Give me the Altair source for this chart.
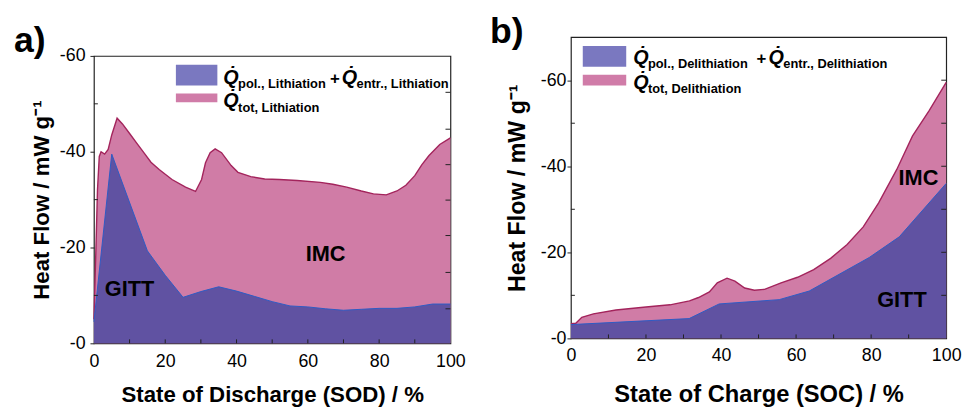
import altair as alt
import pandas as pd

# ---------------- data ----------------
# panel a: lithiation (state of discharge)
sod_imc = [0, 0.5, 1, 1.5, 2, 3, 4, 5, 6.5, 8, 10, 12, 14, 16, 18.3, 21.9, 25.7, 28.5,
           30.2, 31.3, 32.6, 34, 35.8, 38.5, 40.4, 44, 47.9, 52, 57, 63.5, 67, 70.9,
           75, 78.4, 82, 85, 87.5, 90, 92, 94, 97, 100]
imc_lith = [-5, -18, -32, -39, -40, -39.5, -40.5, -43.5, -47, -45.8, -43.8, -41.8, -39.8,
            -37.8, -36.3, -34.2, -32.6, -31.7, -34.2, -37.7, -39.8, -40.6, -39.8, -37.1,
            -35.7, -34.8, -34.3, -34.2, -34.0, -33.6, -33.2, -32.6, -31.8, -31.2, -31.0,
            -31.8, -33.0, -35.0, -37.3, -39.2, -41.5, -42.9]
sod_gitt = [0, 5, 15, 20, 25, 30, 35, 40, 45, 50, 55, 60, 65, 70, 75, 80, 85, 90, 95, 100]
gitt_lith = [-4.5, -39.5, -19.3, -14.2, -9.6, -10.8, -11.8, -10.9, -9.8, -8.7, -7.8, -7.6,
             -7.2, -6.9, -7.1, -7.3, -7.3, -7.6, -8.2, -8.2]

# panel b: delithiation (state of charge)
soc_imc = [0, 1.3, 2.9, 6, 12, 20, 26.4, 31.6, 34, 36.9, 39, 41.6, 43.7, 46.3, 48.9, 51.6,
           56, 60.4, 64.7, 69.2, 73.6, 77.9, 82, 86.8, 91, 95.5, 100]
imc_delith = [-3.4, -3.5, -4.9, -5.7, -6.6, -7.3, -7.8, -8.7, -9.5, -10.8, -12.9, -14.0,
              -13.3, -11.7, -11.2, -11.4, -12.9, -14.2, -16.0, -18.6, -21.8, -25.9, -31.5,
              -39.2, -47.0, -53.0, -59.5]
soc_gitt = [0, 31.5, 39.5, 55.5, 63.5, 79.5, 87.5, 100]
gitt_delith = [-3.2, -4.6, -8.0, -9.0, -11.0, -18.8, -23.6, -36.0]

x_labels = [0, 20, 40, 60, 80, 100]
x_minor = [10, 20, 30, 40, 50, 60, 70, 80, 90]
ya_labels = [0, -20, -40, -60]
ya_minor = [-10, -30, -50]
ya_right = [-7.2, -14.8, -22.5, -29.9, -37.3, -44.7, -52.4]
yb_labels = [0, -20, -40, -60]
yb_minor = [-10, -30, -50]
yb_right = [-10, -20, -30, -40, -50, -60]

# ---------------- style ----------------
FONT = "Liberation Sans"
PINK = "#D07CA6"
PINK_LINE = "#A3245C"
BLUE = "#6052A2"
BLUE_LINE = "#2E5BC4"
LEG_BLUE = "#7A78C0"
LEG_PINK = "#D07CA8"
FRAME = "#222222"
ONE = pd.DataFrame({"d": [0]})


def txt(text, x, y, size, italic=False, baseline="alphabetic", align="left"):
    return alt.Chart(ONE).mark_text(
        text=text, align=align, baseline=baseline, font=FONT, fontSize=size,
        fontWeight="bold", fontStyle="italic" if italic else "normal", color="black"
    ).encode(x=alt.value(x), y=alt.value(y))


def swatch(color, x, x2, y, y2):
    return alt.Chart(ONE).mark_rect(color=color).encode(
        x=alt.value(x), x2=alt.value(x2), y=alt.value(y), y2=alt.value(y2))


def panel(xi, yi, xg, yg, W, H, ymin, xtitle, xtsize, ylabels, yminor, yright,
          lab_pad_y, title_pad_y, lab_pad_x, title_pad_x, ytsize):
    xs = alt.Scale(domain=[0, 100], nice=False, zero=False)
    ys = alt.Scale(domain=[ymin, 0], reverse=True, nice=False)
    xaxis = alt.Axis(values=x_labels, ticks=False, labelPadding=lab_pad_x,
                     title=xtitle, titleFontSize=xtsize, titlePadding=title_pad_x,
                     labelFlush=False)
    yaxis = alt.Axis(values=ylabels, tickSize=4, labelPadding=lab_pad_y,
                     title="Heat Flow / mW g\u207b\u00b9", titleFontSize=ytsize,
                     titlePadding=title_pad_y, labelExpr="'-' + abs(datum.value)")
    imc = pd.DataFrame({"x": xi, "y": yi})
    gitt = pd.DataFrame({"x": xg, "y": yg})
    base_i = alt.Chart(imc)
    base_g = alt.Chart(gitt)
    area_i = base_i.mark_area(color=PINK, opacity=1).encode(
        x=alt.X("x:Q", scale=xs, axis=xaxis), y=alt.Y("y:Q", scale=ys, axis=yaxis))
    line_i = base_i.mark_line(color=PINK_LINE, strokeWidth=1.4).encode(
        x=alt.X("x:Q"), y=alt.Y("y:Q"))
    area_g = base_g.mark_area(color=BLUE, opacity=1).encode(
        x=alt.X("x:Q"), y=alt.Y("y:Q"))
    line_g = base_g.mark_line(color=BLUE_LINE, strokeWidth=1).encode(
        x=alt.X("x:Q"), y=alt.Y("y:Q"))
    bt = alt.Chart(pd.DataFrame({"x": x_minor})).mark_rule(color=FRAME, strokeWidth=1).encode(
        x=alt.X("x:Q"), y=alt.value(H), y2=alt.value(H - 4))
    lt = alt.Chart(pd.DataFrame({"y": yminor})).mark_rule(color=FRAME, strokeWidth=1).encode(
        y=alt.Y("y:Q"), x=alt.value(0), x2=alt.value(4))
    rt = alt.Chart(pd.DataFrame({"y": yright})).mark_rule(color=FRAME, strokeWidth=1).encode(
        y=alt.Y("y:Q"), x=alt.value(W - 5), x2=alt.value(W))
    return [area_i, line_i, area_g, line_g, bt, lt, rt]


def note(text, xv, yv):
    return alt.Chart(pd.DataFrame({"x": [xv], "y": [yv]})).mark_text(
        text=text, font=FONT, fontSize=22, fontWeight="bold",
        color="black", baseline="middle", align="center").encode(
        x=alt.X("x:Q"), y=alt.Y("y:Q"))


Q = "Q\u0307"

# ---------------- panel a ----------------
WA, HA = 361, 291
la = panel(sod_imc, imc_lith, sod_gitt, gitt_lith, WA, HA, -60,
           "State of Discharge (SOD) / %", 22.5, ya_labels, ya_minor, ya_right,
           5, 6, 9, 14, 22.5)
la += [
    note("GITT", 10, -11.3),
    note("IMC", 65, -18.6),
    swatch(LEG_BLUE, 83, 125, 9, 30),
    swatch(LEG_PINK, 83, 125, 38, 47),
    txt(Q, 131, 28, 20, italic=True),
    txt("pol., Lithiation", 146, 32, 13),
    txt("+", 239, 28, 17),
    txt(Q, 251, 28, 20, italic=True),
    txt("entr., Lithiation", 266, 32, 13),
    txt(Q, 131, 52, 20, italic=True),
    txt("tot, Lithiation", 146, 57, 13),
    txt("a)", -81, -32, 36, baseline="top"),
]
chart_a = alt.layer(*la).properties(width=WA, height=HA)

# small empty strip that lowers panel a relative to panel b
spacer = alt.Chart(ONE).mark_point(opacity=0).encode(
    x=alt.value(0), y=alt.value(0)
).properties(width=WA, height=1, view=alt.ViewBackground(stroke="transparent"))

col_a = alt.vconcat(spacer, chart_a, spacing=18, bounds="flush")

# ---------------- panel b ----------------
WB, HB = 380, 305
lb = panel(soc_imc, imc_delith, soc_gitt, gitt_delith, WB, HB, -70,
           "State of Charge (SOC) / %", 24, yb_labels, yb_minor, yb_right,
           1, 11, 8, 19, 23.5)
lb += [
    note("IMC", 92.6, -37.2),
    note("GITT", 88.2, -9.0),
    swatch(LEG_BLUE, 12, 56, 9, 30),
    swatch(LEG_PINK, 12, 56, 38, 49),
    txt(Q, 63, 27, 20, italic=True),
    txt("pol., Delithiation", 78, 31, 13),
    txt("+", 188, 27, 17),
    txt(Q, 200, 27, 20, italic=True),
    txt("entr., Delithiation", 215, 31, 13),
    txt(Q, 63, 52, 20, italic=True),
    txt("tot, Delithiation", 78, 57, 13),
    txt("b)", -82, -22, 36, baseline="top"),
]
chart_b = alt.layer(*lb).properties(width=WB, height=HB)

chart = alt.hconcat(col_a, chart_b, spacing=23).properties(
    padding={"left": 5, "top": 3, "right": 0, "bottom": 0}
).configure_view(stroke=FRAME, strokeWidth=1.2).configure_axis(
    labelFont=FONT, titleFont=FONT, labelFontSize=18, labelColor="black",
    titleColor="black", titleFontWeight="bold", grid=False, domain=False,
    tickColor=FRAME, tickWidth=1
)

chart.save("out.html", embed_options={"renderer": "svg", "actions": False})
